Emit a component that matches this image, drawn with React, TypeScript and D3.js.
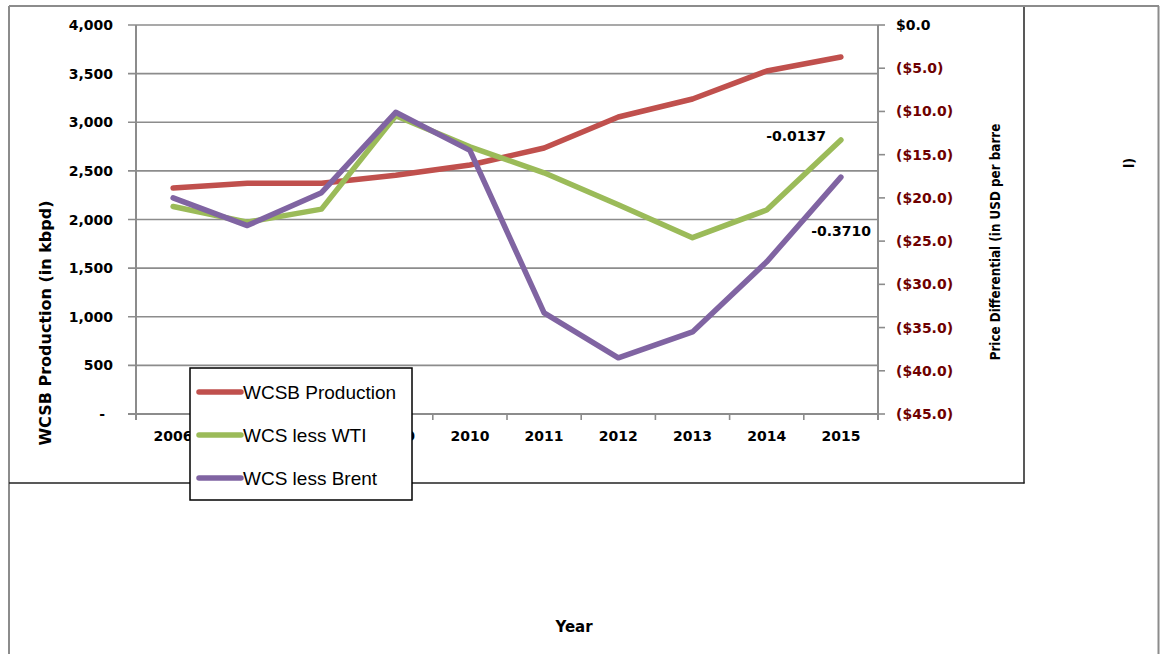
import React from "react";
import * as d3 from "d3";

const years = ["2006", "2007", "2008", "2009", "2010", "2011", "2012", "2013", "2014", "2015"];
const wcsbProduction = [2324, 2372, 2372, 2455, 2560, 2735, 3054, 3239, 3527, 3671];
const wcsLessWti = [-21.0, -22.8, -21.3, -10.5, -14.1, -17.1, -20.8, -24.6, -21.4, -13.3];
const wcsLessBrent = [-20.0, -23.2, -19.4, -10.1, -14.5, -33.3, -38.5, -35.5, -27.4, -17.6];
const leftTicks = [0, 500, 1000, 1500, 2000, 2500, 3000, 3500, 4000];
const rightTicks = [0, -5, -10, -15, -20, -25, -30, -35, -40, -45];
const seriesNames = ["WCSB Production", "WCS less WTI", "WCS less Brent"];
const seriesColors = ["#c0504d", "#9bbb59", "#8064a2"];
const dataLabels = [
  { text: "-0.0137", series: 1 },
  { text: "-0.3710", series: 2 },
];

const W = 1160;
const H = 654;
const plot = { left: 136, right: 878, top: 25, bottom: 414 };

export default function App() {
  const x = d3.scaleBand<string>().domain(years).range([plot.left, plot.right]).padding(0);
  const yL = d3.scaleLinear().domain([0, 4000]).range([plot.bottom, plot.top]);
  const yR = d3.scaleLinear().domain([-45, 0]).range([plot.bottom, plot.top]);
  const cx = (d: string) => (x(d) as number) + x.bandwidth() / 2;

  const lineL = d3.line<number>().x((_, i) => cx(years[i])).y((v) => yL(v));
  const lineR = d3.line<number>().x((_, i) => cx(years[i])).y((v) => yR(v));

  const fmtL = (v: number) => (v === 0 ? "-" : d3.format(",")(v));
  const fmtR = (v: number) =>
    v === 0 ? "$0.0" : `($${d3.format(".1f")(Math.abs(v))})`;

  const tickFont = "'DejaVu Sans', Verdana, sans-serif";
  const gridColor = "#8c8c8c";

  const boundaries = d3.range(years.length + 1).map((i) => plot.left + i * x.bandwidth());

  const labelPos = [
    { x: 826, y: 141 },
    { x: 871, y: 236 },
  ];

  return (
    <svg
      width={W}
      height={H}
      style={{ position: "absolute", left: 0, top: 0, background: "#fff" }}
    >
      <rect x={0} y={0} width={W} height={H} fill="#fff" />
      {/* outer frames */}
      <line x1={9} y1={6} x2={1159} y2={6} stroke="#8c8c8c" strokeWidth={2} />
      <line x1={9} y1={6} x2={9} y2={H} stroke="#8c8c8c" strokeWidth={2} />
      <line x1={1158.5} y1={6} x2={1158.5} y2={H} stroke="#8c8c8c" strokeWidth={2} />
      <line x1={1024} y1={7} x2={1024} y2={483.5} stroke="#222" strokeWidth={1.5} />
      <line x1={9} y1={483} x2={1024.5} y2={483} stroke="#222" strokeWidth={1.5} />

      {/* gridlines */}
      {leftTicks.map((t) => (
        <line
          key={"g" + t}
          x1={plot.left - 8}
          x2={plot.right}
          y1={yL(t)}
          y2={yL(t)}
          stroke={gridColor}
          strokeWidth={t === 0 ? 2 : 1.6}
        />
      ))}
      {/* left axis */}
      <line x1={plot.left} x2={plot.left} y1={plot.top} y2={plot.bottom + 6} stroke={gridColor} strokeWidth={2} />
      {/* right axis */}
      <line x1={plot.right} x2={plot.right} y1={plot.top} y2={plot.bottom + 6} stroke={gridColor} strokeWidth={2} />
      {rightTicks.map((t) => (
        <line key={"rt" + t} x1={plot.right} x2={plot.right + 7} y1={yR(t)} y2={yR(t)} stroke={gridColor} strokeWidth={1.6} />
      ))}
      {/* x ticks */}
      {boundaries.map((b, i) => (
        <line key={"xt" + i} x1={b} x2={b} y1={plot.bottom} y2={plot.bottom + 6} stroke={gridColor} strokeWidth={1.6} />
      ))}

      {/* left tick labels */}
      {leftTicks.map((t) => (
        <text
          key={"ll" + t}
          x={t === 0 ? 105 : 113}
          y={yL(t)}
          dy="0.36em"
          textAnchor="end"
          fontFamily={tickFont}
          fontWeight="bold"
          fontSize={14}
          fill="#000"
        >
          {fmtL(t)}
        </text>
      ))}
      {/* right tick labels */}
      {rightTicks.map((t) => (
        <text
          key={"rl" + t}
          x={896}
          y={yR(t)}
          dy="0.36em"
          textAnchor="start"
          fontFamily={tickFont}
          fontWeight="bold"
          fontSize={14}
          fill={t === 0 ? "#000" : "#6e0000"}
        >
          {fmtR(t)}
        </text>
      ))}
      {/* x tick labels */}
      {years.map((yv) => (
        <text
          key={"xl" + yv}
          x={cx(yv)}
          y={436}
          dy="0.36em"
          textAnchor="middle"
          fontFamily={tickFont}
          fontWeight="bold"
          fontSize={14}
          fill="#000"
        >
          {yv}
        </text>
      ))}

      {/* series */}
      <path d={lineL(wcsbProduction) || ""} fill="none" stroke={seriesColors[0]} strokeWidth={5.5} strokeLinejoin="round" strokeLinecap="round" />
      <path d={lineR(wcsLessWti) || ""} fill="none" stroke={seriesColors[1]} strokeWidth={5.5} strokeLinejoin="round" strokeLinecap="round" />
      <path d={lineR(wcsLessBrent) || ""} fill="none" stroke={seriesColors[2]} strokeWidth={5.5} strokeLinejoin="round" strokeLinecap="round" />

      {/* data labels */}
      {dataLabels.map((dl, i) => (
        <text
          key={"dl" + i}
          x={labelPos[i].x}
          y={labelPos[i].y}
          textAnchor="end"
          fontFamily={tickFont}
          fontWeight="bold"
          fontSize={14}
          fill="#000"
        >
          {dl.text}
        </text>
      ))}

      {/* axis titles */}
      <text
        transform="translate(51,323) rotate(-90)"
        textAnchor="middle"
        fontFamily={tickFont}
        fontWeight="bold"
        fontSize={16}
        fill="#000"
      >
        WCSB Production (in kbpd)
      </text>
      <text
        transform="translate(1000,242) rotate(-90)"
        textAnchor="middle"
        fontFamily="'Liberation Sans Narrow', 'DejaVu Sans Condensed', sans-serif"
        fontStretch="condensed"
        fontWeight="bold"
        fontSize={13.3}
        fill="#000"
      >
        Price Differential (in USD per barre
      </text>
      <text
        transform="translate(1134,163) rotate(-90)"
        textAnchor="middle"
        fontFamily="'Liberation Sans Narrow', 'DejaVu Sans Condensed', sans-serif"
        fontStretch="condensed"
        fontWeight="bold"
        fontSize={14}
        fill="#000"
      >
        l)
      </text>
      <text
        x={574}
        y={627}
        dy="0.36em"
        textAnchor="middle"
        fontFamily={tickFont}
        fontWeight="bold"
        fontSize={15}
        fill="#000"
      >
        Year
      </text>

      {/* legend */}
      <rect x={190} y={368} width={222} height={132} fill="#fff" stroke="#000" strokeWidth={1.5} />
      {seriesNames.map((name, i) => {
        const ly = 392 + i * 43;
        return (
          <g key={"lg" + i}>
            <line x1={199} x2={241} y1={ly} y2={ly} stroke={seriesColors[i]} strokeWidth={5.5} strokeLinecap="round" />
            <text
              x={243}
              y={ly}
              dy="0.36em"
              fontFamily="'Liberation Sans', Arial, sans-serif"
              fontSize={19}
              fill="#000"
            >
              {name}
            </text>
          </g>
        );
      })}
    </svg>
  );
}
